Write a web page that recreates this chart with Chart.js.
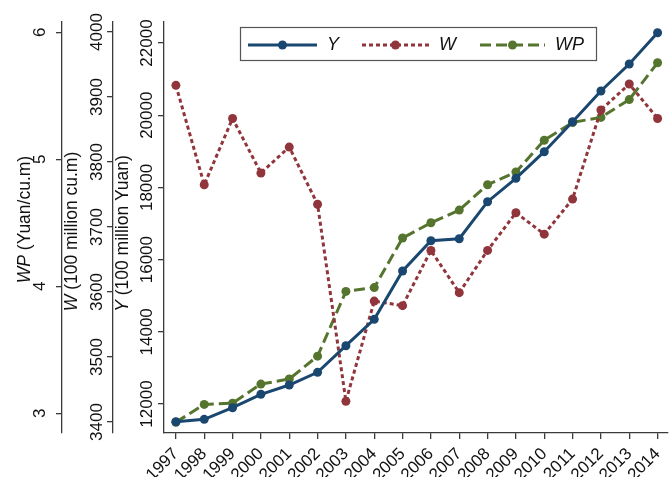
<!DOCTYPE html>
<html>
<head>
<meta charset="utf-8">
<script src="https://cdn.jsdelivr.net/npm/chart.js@4/dist/chart.umd.min.js"></script>
<style>
html,body{margin:0;padding:0;background:#fff;}
#wrap{width:672px;height:477px;position:relative;}
</style>
</head>
<body>
<div id="wrap"><canvas id="c" width="672" height="477"></canvas></div>
<script>
// ---- data ----
const years = [1997,1998,1999,2000,2001,2002,2003,2004,2005,2006,2007,2008,2009,2010,2011,2012,2013,2014];
const yValues  = [11510,11576,11898,12269,12526,12878,13615,14346,15684,16523,16579,17604,18252,18989,19820,20670,21418,22285];
const wValues  = [3918,3765,3867,3783,3823,3735,3432,3586,3579,3664,3599,3664,3722,3689,3743,3880,3920,3867];
const wpValues = [2.93,3.07,3.08,3.23,3.27,3.45,3.96,3.99,4.38,4.50,4.60,4.80,4.90,5.15,5.29,5.33,5.47,5.76];
const yTicks  = [12000,14000,16000,18000,20000,22000];
const wTicks  = [3400,3500,3600,3700,3800,3900,4000];
const wpTicks = [3,4,5,6];
const seriesNames = ['Y','W','WP'];
const titleVars = ['WP','W','Y'];
const titleUnits = [' (Yuan/cu.m)',' (100 million cu.m)',' (100 million Yuan)'];

// ---- styles ----
const FONT = "'Liberation Sans', Arial, Helvetica, sans-serif";
const AX = '#3a3a3a';
const TXT = '#111';
const COLORS = ['#1a476f','#90353b','#55752f'];
const DASHES = [[], [4,3], [11,5]];

function yAxis(weight, min, max, ticks, width, pad) {
  return {
    type: 'linear', position: 'left', weight: weight, min: min, max: max,
    afterBuildTicks: s => { s.ticks = ticks.map(v => ({value: v})); },
    afterFit: s => { s.width = width; s.paddingTop = 0; s.paddingBottom = 0; },
    grid: {drawOnChartArea: false, drawTicks: true, tickLength: 6, color: AX, tickColor: AX, lineWidth: 1.3, tickWidth: 1.3},
    border: {display: true, color: AX, width: 1.3},
    ticks: {autoSkip: false, minRotation: 90, maxRotation: 90, crossAlign: 'center', padding: pad,
            color: TXT, font: {family: FONT, size: 17}, callback: v => String(v)},
    title: {display: false}
  };
}

const overlay = {
  id: 'overlay',
  afterDraw(chart) {
    const ctx = chart.ctx;
    const ca = chart.chartArea;
    const cy = (ca.top + ca.bottom) / 2;
    const ids = ['yWP','yW','yY'];
    const offs = [37, 41, 41];
    const dy = [-8, 4, 6];
    ctx.save();
    ctx.fillStyle = TXT;
    ctx.textBaseline = 'middle';
    ids.forEach((id, i) => {
      const sc = chart.scales[id];
      const x = sc.right - offs[i];
      ctx.save();
      ctx.translate(x, cy + dy[i]);
      ctx.rotate(-Math.PI / 2);
      ctx.font = 'italic 17.5px ' + FONT;
      const w1 = ctx.measureText(titleVars[i]).width;
      ctx.font = '17.5px ' + FONT;
      const w2 = ctx.measureText(titleUnits[i]).width;
      let sx = -(w1 + w2) / 2;
      ctx.textAlign = 'left';
      ctx.font = 'italic 17.5px ' + FONT;
      ctx.fillText(titleVars[i], sx, 0);
      ctx.font = '17.5px ' + FONT;
      ctx.fillText(titleUnits[i], sx + w1, 0);
      ctx.restore();
    });
    // legend box
    const bx = 240.5, by = 27.5, bw = 356, bh = 33;
    ctx.fillStyle = '#fff';
    ctx.fillRect(bx, by, bw, bh);
    ctx.strokeStyle = '#555';
    ctx.lineWidth = 1.2;
    ctx.strokeRect(bx, by, bw, bh);
    const ly = by + bh / 2 + 1;
    const starts = [248, 362, 480];
    const lens = [69, 67, 65];
    seriesNames.forEach((name, i) => {
      const x0 = starts[i];
      ctx.strokeStyle = COLORS[i];
      ctx.lineWidth = 3;
      ctx.setLineDash(DASHES[i]);
      ctx.beginPath(); ctx.moveTo(x0, ly); ctx.lineTo(x0 + lens[i], ly); ctx.stroke();
      ctx.setLineDash([]);
      ctx.fillStyle = COLORS[i];
      ctx.beginPath(); ctx.arc(x0 + lens[i] / 2, ly, 4.5, 0, Math.PI * 2); ctx.fill();
      ctx.fillStyle = TXT;
      ctx.font = 'italic 18px ' + FONT;
      ctx.textAlign = 'left';
      ctx.textBaseline = 'middle';
      ctx.fillText(name, x0 + lens[i] + 10, ly);
    });
    ctx.restore();
  }
};

const valueSets = [yValues, wValues, wpValues];
const axisIds = ['yY','yW','yWP'];
const datasets = seriesNames.map((name, i) => ({
  label: name,
  data: years.map((yr, k) => ({x: yr, y: valueSets[i][k]})),
  yAxisID: axisIds[i],
  borderColor: COLORS[i],
  backgroundColor: COLORS[i],
  borderWidth: 3,
  borderDash: DASHES[i],
  pointRadius: 4.5,
  pointBorderWidth: 0,
  pointBackgroundColor: COLORS[i],
  tension: 0,
  clip: false
}));

new Chart(document.getElementById('c'), {
  type: 'line',
  data: {datasets: datasets},
  options: {
    responsive: false,
    devicePixelRatio: 1,
    animation: false,
    layout: {padding: {top: 22, left: 0, right: 0, bottom: 0}},
    plugins: {legend: {display: false}, tooltip: {enabled: false}},
    scales: {
      x: {
        type: 'linear', position: 'bottom', min: 1996.58, max: 2014.35,
        afterBuildTicks: s => { s.ticks = years.map(v => ({value: v})); },
        afterFit: s => { s.height = 44; s.paddingLeft = 0; s.paddingRight = 0; },
        grid: {drawOnChartArea: false, drawTicks: true, tickLength: 6, color: AX, tickColor: AX, lineWidth: 1.3, tickWidth: 1.3},
        border: {display: true, color: AX, width: 1.3},
        ticks: {autoSkip: false, minRotation: 45, maxRotation: 45, padding: 5, color: TXT,
                font: {family: FONT, size: 17}, callback: v => String(v)}
      },
      yY:  yAxis(1, 11197, 22582, yTicks, 51, -12.6),
      yW:  yAxis(2, 3383.1, 4015.4, wTicks, 51, -8.9),
      yWP: yAxis(3, 2.845, 6.081, wpTicks, 62, 11.3)
    }
  },
  plugins: [overlay]
});
</script>
</body>
</html>
